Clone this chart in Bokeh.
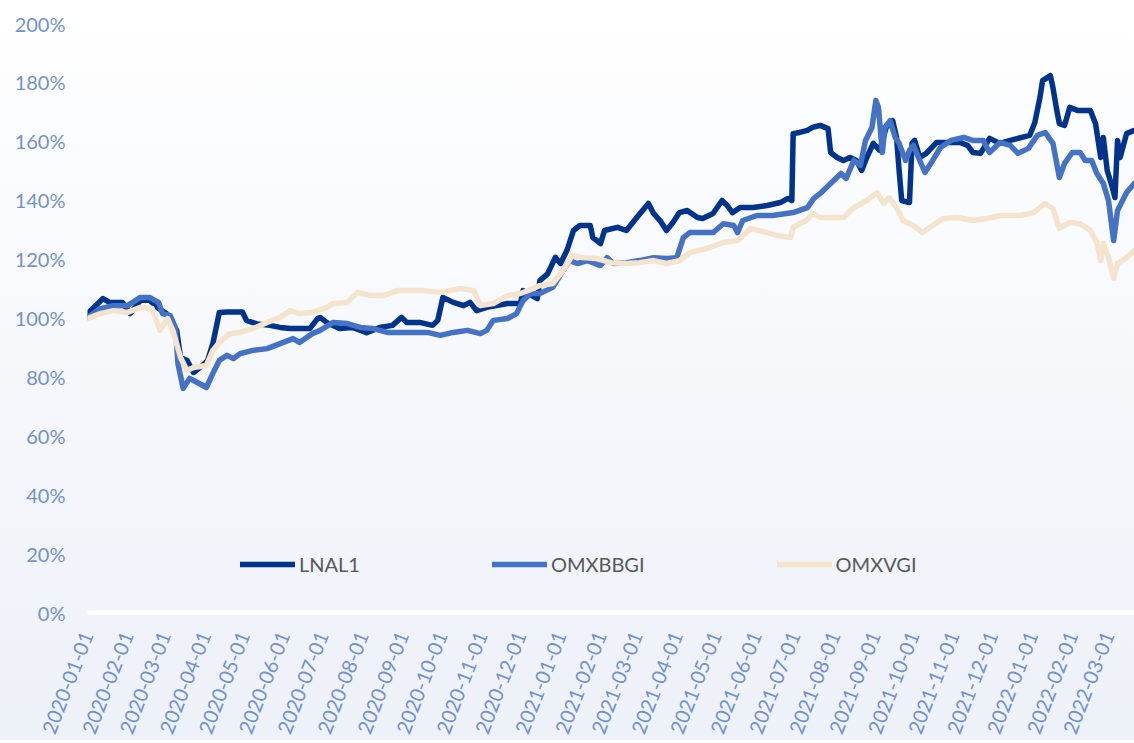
import pandas as pd
from bokeh.plotting import figure
from bokeh.models import FixedTicker, DatetimeTickFormatter, PrintfTickFormatter, Range1d, Legend, LegendItem
from bokeh.embed import file_html
from bokeh.resources import INLINE

series_names = ["LNAL1", "OMXBBGI", "OMXVGI"]

lnal1_dates = ["2020-01-01","2020-01-13","2020-01-18","2020-01-28","2020-02-03","2020-02-11","2020-02-18","2020-02-24",
    "2020-03-02","2020-03-10","2020-03-13","2020-03-18","2020-03-23","2020-03-30","2020-04-03","2020-04-07","2020-04-12",
    "2020-04-18","2020-04-30","2020-05-03","2020-05-11","2020-05-21","2020-05-29","2020-06-06","2020-06-21","2020-06-27",
    "2020-06-29","2020-07-04","2020-07-14","2020-07-24","2020-08-04","2020-08-14","2020-08-24","2020-08-31","2020-09-04",
    "2020-09-14","2020-09-24","2020-09-28","2020-10-02","2020-10-10","2020-10-18","2020-10-23","2020-10-28","2020-11-05",
    "2020-11-21","2020-12-01","2020-12-03","2020-12-14","2020-12-16","2020-12-22","2020-12-28","2021-01-01","2021-01-06",
    "2021-01-11","2021-01-16","2021-01-24","2021-01-26","2021-02-01","2021-02-04","2021-02-14","2021-02-21","2021-03-01",
    "2021-03-10","2021-03-14","2021-03-19","2021-03-24","2021-03-29","2021-04-03","2021-04-09","2021-04-17","2021-04-21",
    "2021-04-29","2021-05-06","2021-05-10","2021-05-14","2021-05-20","2021-05-30","2021-06-10","2021-06-20","2021-06-26",
    "2021-06-29","2021-06-30","2021-07-05","2021-07-11","2021-07-15","2021-07-21","2021-07-27","2021-07-29","2021-08-03",
    "2021-08-08","2021-08-13","2021-08-18","2021-08-22","2021-08-26","2021-08-31","2021-09-05","2021-09-10","2021-09-15",
    "2021-09-18","2021-09-20","2021-09-22","2021-09-28","2021-09-30","2021-10-02","2021-10-06","2021-10-11","2021-10-19",
    "2021-11-06","2021-11-12","2021-11-16","2021-11-22","2021-11-29","2021-12-07","2021-12-15","2021-12-30","2022-01-03",
    "2022-01-07","2022-01-09","2022-01-15","2022-01-17","2022-01-20","2022-01-22","2022-01-26","2022-01-30","2022-02-05",
    "2022-02-15","2022-02-19","2022-02-23","2022-02-25","2022-02-28","2022-03-04","2022-03-06","2022-03-08","2022-03-10",
    "2022-03-15","2022-03-21"]
lnal1_values = [101.5,106.6,105.3,105.3,101.5,106.0,106.0,103.6,
    101.5,95.8,86.6,85.6,81.5,83.9,85.6,91.3,101.9,
    102.0,102.0,99.2,98.0,97.5,96.8,96.4,96.4,99.8,
    100.2,98.5,96.4,96.8,95.0,96.8,97.5,100.2,98.5,
    98.5,97.5,99.2,107.0,105.3,104.2,105.3,102.5,103.6,
    104.9,104.9,109.3,106.6,112.7,115.0,120.6,118.5,123.0,
    129.7,131.4,131.4,127.3,125.3,129.7,130.8,129.7,134.1,
    138.9,135.5,133.1,129.7,132.4,135.8,136.5,134.1,133.8,
    135.5,139.9,138.2,135.8,137.5,137.5,138.2,139.2,140.6,
    139.9,162.6,163.0,163.7,164.7,165.4,164.3,156.2,154.5,
    153.5,154.5,153.5,150.1,154.5,159.3,156.9,164.7,167.0,
    161.3,150.1,139.9,139.2,159.3,160.3,154.5,155.9,159.6,
    159.6,158.6,156.2,155.9,161.0,159.3,160.3,162.0,166.4,
    174.9,180.6,182.3,178.3,170.5,166.0,165.4,171.5,170.5,
    170.5,166.0,154.5,161.3,150.1,144.3,140.9,160.3,154.5,
    162.6,163.7]

omxbbgi_dates = ["2020-01-01","2020-01-11","2020-01-21","2020-02-01","2020-02-11","2020-02-18","2020-02-25","2020-02-28",
    "2020-03-05","2020-03-09","2020-03-11","2020-03-15","2020-03-20","2020-03-26","2020-04-02","2020-04-07","2020-04-12",
    "2020-04-18","2020-04-23","2020-04-28","2020-05-08","2020-05-19","2020-05-29","2020-06-08","2020-06-13","2020-06-23",
    "2020-06-29","2020-07-09","2020-07-20","2020-07-30","2020-08-09","2020-08-20","2020-08-30","2020-09-09","2020-09-20",
    "2020-09-30","2020-10-10","2020-10-21","2020-10-31","2020-11-05","2020-11-10","2020-11-21","2020-11-28","2020-12-03",
    "2020-12-09","2020-12-16","2020-12-26","2021-01-03","2021-01-08","2021-01-14","2021-01-22","2021-02-01","2021-02-06",
    "2021-02-11","2021-02-21","2021-03-03","2021-03-14","2021-03-24","2021-04-01","2021-04-06","2021-04-11","2021-04-29",
    "2021-05-07","2021-05-15","2021-05-18","2021-05-22","2021-06-02","2021-06-14","2021-06-30","2021-07-11","2021-07-16",
    "2021-07-21","2021-07-29","2021-08-06","2021-08-10","2021-08-16","2021-08-21","2021-08-25","2021-08-30","2021-09-02",
    "2021-09-04","2021-09-07","2021-09-09","2021-09-13","2021-09-17","2021-09-20","2021-09-25","2021-09-28","2021-10-01",
    "2021-10-05","2021-10-10","2021-10-16","2021-10-22","2021-10-30","2021-11-09","2021-11-16","2021-11-24","2021-11-29",
    "2021-12-07","2021-12-15","2021-12-21","2021-12-29","2022-01-05","2022-01-11","2022-01-17","2022-01-22","2022-01-26",
    "2022-02-01","2022-02-07","2022-02-11","2022-02-16","2022-02-20","2022-02-25","2022-03-01","2022-03-05","2022-03-08",
    "2022-03-15","2022-03-21"]
omxbbgi_values = [100.2,103.2,104.2,104.2,107.0,107.0,105.3,101.5,
    100.8,96.8,84.5,76.1,79.5,78.1,76.4,81.2,85.6,
    87.3,86.2,87.9,89.0,89.6,91.3,93.0,91.7,94.7,
    95.8,98.5,98.1,96.8,96.4,95.1,95.1,95.1,95.1,
    94.1,95.1,95.8,94.7,95.8,99.2,99.8,101.5,105.9,
    108.3,108.3,110.4,116.1,119.5,118.5,119.5,117.8,120.5,
    118.5,118.8,119.5,120.5,120.2,120.5,127.3,129.0,129.0,
    132.0,131.4,129.0,133.1,134.8,134.8,135.8,137.5,140.6,
    142.3,145.7,149.1,147.4,153.5,151.8,160.3,164.7,173.9,
    171.5,156.2,164.7,167.0,161.3,159.3,153.5,156.9,158.6,
    154.5,149.4,153.5,157.9,160.3,161.3,160.3,160.3,156.2,
    159.6,158.6,155.9,157.6,162.0,163.0,159.3,147.7,152.5,
    156.2,156.2,153.5,153.5,149.1,145.7,139.9,126.3,136.5,
    142.6,145.7]

omxvgi_dates = ["2020-01-01","2020-01-11","2020-01-21","2020-02-01","2020-02-11","2020-02-20","2020-02-26","2020-03-03",
    "2020-03-07","2020-03-13","2020-03-18","2020-03-23","2020-04-02","2020-04-07","2020-04-12","2020-04-20","2020-04-28",
    "2020-05-08","2020-05-19","2020-05-29","2020-06-06","2020-06-13","2020-06-23","2020-07-04","2020-07-09","2020-07-20",
    "2020-07-28","2020-08-07","2020-08-17","2020-08-28","2020-09-07","2020-09-17","2020-09-30","2020-10-16","2020-10-26",
    "2020-10-31","2020-11-10","2020-11-21","2020-12-01","2020-12-11","2020-12-16","2020-12-26","2021-01-03","2021-01-10",
    "2021-01-18","2021-01-29","2021-02-09","2021-02-21","2021-03-03","2021-03-14","2021-03-24","2021-04-03","2021-04-11",
    "2021-04-24","2021-05-07","2021-05-18","2021-05-28","2021-06-10","2021-06-18","2021-06-28","2021-06-30","2021-07-10",
    "2021-07-15","2021-07-21","2021-08-08","2021-08-16","2021-08-26","2021-09-03","2021-09-08","2021-09-12","2021-09-18",
    "2021-09-23","2021-10-01","2021-10-08","2021-10-16","2021-10-24","2021-11-04","2021-11-16","2021-11-27","2021-12-07",
    "2021-12-23","2022-01-02","2022-01-11","2022-01-17","2022-01-22","2022-01-30","2022-02-07","2022-02-15","2022-02-20",
    "2022-02-23","2022-02-25","2022-03-01","2022-03-05","2022-03-08","2022-03-15","2022-03-21"]
omxvgi_values = [99.8,101.5,102.5,101.9,103.6,103.2,95.8,99.8,
    95.8,86.6,82.2,83.2,83.9,89.0,91.7,94.7,95.1,
    96.4,98.5,100.2,102.5,101.5,101.9,103.6,104.9,105.3,
    108.7,107.6,107.6,109.3,109.3,109.3,108.7,110.0,109.3,
    104.2,104.9,107.6,108.3,110.0,111.0,111.7,116.1,121.2,
    120.5,120.2,118.8,118.5,118.8,119.5,118.5,119.5,122.2,
    123.6,125.6,126.3,130.4,129.0,128.0,127.3,130.8,133.1,
    135.5,134.1,134.1,137.5,139.9,142.6,138.9,140.9,137.5,
    133.1,131.4,129.0,131.4,133.8,134.1,133.1,133.8,134.8,
    134.8,135.8,138.9,137.2,130.4,132.4,132.0,129.7,125.6,
    119.5,125.3,120.5,113.4,118.5,120.5,122.9]

y_ticks = [0, 20, 40, 60, 80, 100, 120, 140, 160, 180, 200]
x_start = "2020-01-01"
x_end = "2022-03-21 03:00"
month_ticks = pd.date_range("2020-01-01", "2022-03-01", freq="MS")

colors = ["#00338B", "#4472C4", "#F5E4CD"]
tick_color = "#7291CE"
font = "Lato"

p = figure(x_axis_type="datetime", output_backend="svg", toolbar_location=None,
           frame_width=1047, frame_height=589,
           x_range=Range1d(pd.Timestamp(x_start), pd.Timestamp(x_end)),
           y_range=Range1d(0, 200),
           min_border_left=87, min_border_top=23, min_border_right=0, min_border_bottom=0)
p.background_fill_alpha = 0
p.border_fill_alpha = 0
p.outline_line_color = None
p.styles = {"background": "linear-gradient(to bottom, #ffffff 0%, #f4f6fb 60%, #edf1f8 100%)"}
p.xgrid.visible = False
p.ygrid.visible = False

renderers = []
for dates, vals, c in [(lnal1_dates, lnal1_values, colors[0]),
                       (omxbbgi_dates, omxbbgi_values, colors[1]),
                       (omxvgi_dates, omxvgi_values, colors[2])]:
    r = p.line(pd.to_datetime(dates), vals, line_width=5.5, line_color=c,
               line_join="round", line_cap="round")
    renderers.append(r)

p.yaxis.ticker = FixedTicker(ticks=y_ticks)
p.yaxis.formatter = PrintfTickFormatter(format="%d%%")
p.yaxis.axis_line_color = None
p.yaxis.major_tick_line_color = None
p.yaxis.minor_tick_line_color = None
p.yaxis.major_label_standoff = 16
p.yaxis.major_label_text_font = font
p.yaxis.major_label_text_font_size = "20px"
p.yaxis.major_label_text_color = tick_color

p.xaxis.ticker = FixedTicker(ticks=[t.value // 10**6 for t in month_ticks])
fmt = "%Y-%m-%d"
p.xaxis.formatter = DatetimeTickFormatter(milliseconds=fmt, seconds=fmt, minsec=fmt, minutes=fmt,
                                          hourmin=fmt, hours=fmt, days=fmt, months=fmt, years=fmt)
p.xaxis.major_label_orientation = 1.2
p.xaxis.axis_line_color = "white"
p.xaxis.axis_line_width = 4
p.xaxis.major_tick_line_color = None
p.xaxis.minor_tick_line_color = None
p.xaxis.major_label_standoff = 14
p.xaxis.major_label_text_font = font
p.xaxis.major_label_text_font_size = "20px"
p.xaxis.major_label_text_color = tick_color

legend = Legend(items=[LegendItem(label=n, renderers=[r]) for n, r in zip(series_names, renderers)],
                orientation="horizontal", location=(153, 36),
                background_fill_alpha=0, border_line_color=None, padding=0, margin=0,
                spacing=132, glyph_width=55, glyph_height=20, label_height=20, label_standoff=4,
                label_text_font=font, label_text_font_size="20px", label_text_color="#595959")
p.add_layout(legend)

open("out.html", "w").write(file_html(p, INLINE))
